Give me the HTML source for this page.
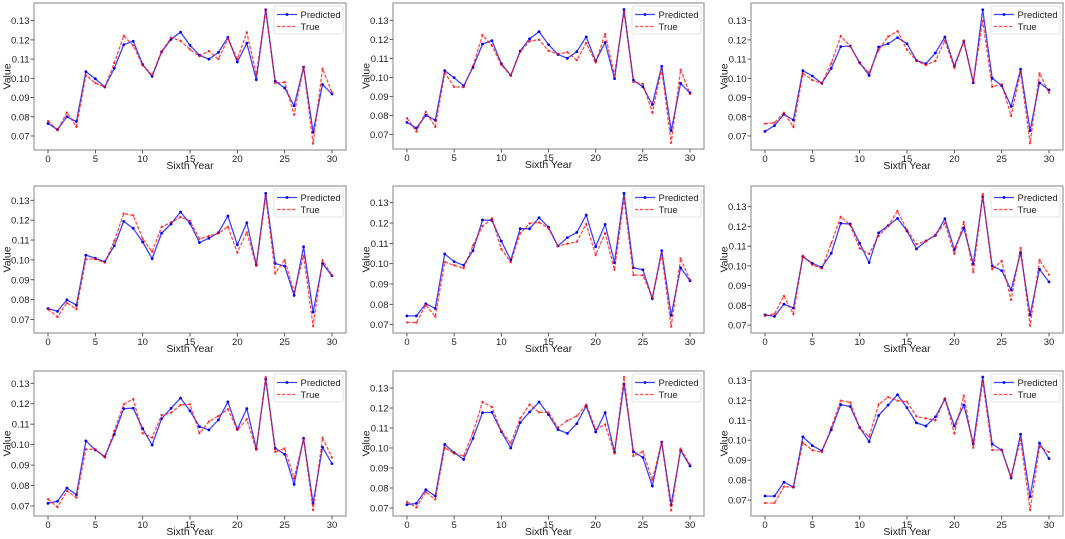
<!DOCTYPE html>
<html><head><meta charset="utf-8">
<style>
html,body{margin:0;padding:0;background:#fff;}
svg{display:block;font-family:"Liberation Sans","DejaVu Sans",sans-serif;}
</style></head>
<body>
<svg id="chart" width="1065" height="539" viewBox="0 0 1065 539" xmlns="http://www.w3.org/2000/svg"></svg>
<script>
const xCategories = Array.from({length:31},(_,i)=>i);
const xTickLabels = ["0","5","10","15","20","25","30"];
const xTickValues = [0,5,10,15,20,25,30];
const yTickValues = [0.07,0.08,0.09,0.10,0.11,0.12,0.13];
const yTickLabels = ["0.07","0.08","0.09","0.10","0.11","0.12","0.13"];

const pred1=[.0765,.0733,.0800,.0775,.1035,.0998,.0955,.1052,.1175,.1193,.1072,.1010,.1138,.1203,.1240,.1172,.1120,.1100,.1135,.1213,.1085,.1183,.0993,.1357,.0985,.0950,.0857,.1058,.0720,.0968,.0918];
const true1=[.0778,.0730,.0822,.0748,.1015,.0975,.0955,.1080,.1222,.1170,.1068,.1017,.1140,.1212,.1195,.1150,.1115,.1142,.1100,.1205,.1100,.1238,.1020,.1355,.0975,.0980,.0810,.1060,.0660,.1050,.0925];
const pred2=[.0763,.0733,.0800,.0775,.1035,.0998,.0955,.1052,.1175,.1193,.1072,.1010,.1138,.1203,.1240,.1172,.1120,.1100,.1135,.1213,.1085,.1183,.0993,.1357,.0985,.0950,.0857,.1058,.0720,.0968,.0918];
const true2=[.0785,.0715,.0818,.0740,.1025,.0950,.0948,.1060,.1222,.1168,.1065,.1010,.1135,.1190,.1198,.1140,.1122,.1132,.1090,.1180,.1078,.1228,.1010,.1345,.0975,.0965,.0815,.1045,.0655,.1040,.0912];
const pred3=[.0724,.0754,.0813,.0783,.1040,.1012,.0974,.1052,.1165,.1168,.1081,.1015,.1163,.1180,.1212,.1180,.1093,.1076,.1132,.1215,.1064,.1192,.0977,.1357,.1000,.0962,.0854,.1047,.0728,.0977,.0939];
const true3=[.0764,.0769,.0821,.0747,.1026,.0991,.0974,.1078,.1220,.1168,.1078,.1029,.1147,.1217,.1245,.1149,.1090,.1069,.1090,.1196,.1055,.1196,.0982,.1300,.0956,.0969,.0804,.1034,.0662,.1026,.0925];
const pred4=[.0755,.0741,.0799,.0772,.1024,.1008,.0991,.1071,.1194,.1159,.1090,.1006,.1135,.1181,.1241,.1184,.1087,.1109,.1137,.1221,.1076,.1187,.0974,.1335,.0982,.0969,.0821,.1066,.0737,.0982,.0920];
const true4=[.0752,.0713,.0784,.0752,.1004,.1004,.0986,.1095,.1233,.1224,.1106,.1041,.1166,.1189,.1216,.1196,.1106,.1120,.1134,.1167,.1037,.1139,.0970,.1322,.0933,.0999,.0838,.1021,.0666,.0997,.0922];
const pred5=[.0743,.0743,.0803,.0780,.1048,.1010,.0992,.1064,.1215,.1213,.1111,.1018,.1172,.1172,.1226,.1179,.1087,.1128,.1154,.1239,.1084,.1193,.1005,.1346,.0980,.0970,.0828,.1064,.0746,.0980,.0916];
const true5=[.0711,.0710,.0797,.0739,.1008,.0992,.0977,.1090,.1185,.1223,.1072,.1007,.1149,.1198,.1203,.1174,.1087,.1098,.1108,.1195,.1043,.1149,.0969,.1321,.0944,.0943,.0834,.1048,.0690,.1026,.0920];
const pred6=[.0752,.0744,.0806,.0786,.1047,.1013,.0993,.1064,.1216,.1212,.1115,.1017,.1168,.1204,.1241,.1177,.1086,.1126,.1155,.1239,.1084,.1192,.1010,.1351,.1000,.0976,.0878,.1067,.0752,.0983,.0919];
const true6=[.0747,.0757,.0848,.0756,.1052,.1005,.0987,.1115,.1249,.1207,.1089,.1061,.1152,.1202,.1278,.1182,.1110,.1126,.1157,.1216,.1061,.1223,.0968,.1364,.0983,.1025,.0828,.1091,.0697,.1030,.0955];
const pred7=[.0713,.0723,.0788,.0755,.1018,.0974,.0941,.1050,.1176,.1178,.1078,.0998,.1127,.1178,.1228,.1165,.1088,.1072,.1121,.1209,.1075,.1176,.0980,.1320,.0982,.0953,.0806,.1031,.0713,.0987,.0907];
const true7=[.0733,.0695,.0773,.0741,.0977,.0977,.0937,.1067,.1197,.1223,.1056,.1034,.1144,.1156,.1194,.1197,.1056,.1113,.1140,.1173,.1072,.1124,.0974,.1331,.0964,.0981,.0836,.1026,.0680,.1034,.0937];
const pred8=[.0717,.0723,.0792,.0760,.1018,.0977,.0943,.1048,.1177,.1178,.1082,.1000,.1127,.1180,.1230,.1167,.1092,.1073,.1122,.1210,.1080,.1177,.0980,.1320,.0982,.0953,.0810,.1030,.0717,.0988,.0910];
const true8=[.0730,.0703,.0780,.0743,.1002,.0973,.0960,.1077,.1230,.1205,.1085,.1023,.1148,.1217,.1178,.1178,.1102,.1137,.1160,.1217,.1093,.1118,.0972,.1355,.0960,.0982,.0840,.1030,.0688,.0997,.0917];
const pred9=[.0720,.0720,.0790,.0765,.1017,.0973,.0947,.1052,.1178,.1169,.1064,.0993,.1124,.1176,.1228,.1163,.1087,.1071,.1117,.1206,.1072,.1176,.0983,.1317,.0981,.0951,.0811,.1030,.0717,.0986,.0908];
const true9=[.0685,.0685,.0767,.0765,.0988,.0950,.0940,.1064,.1198,.1190,.1060,.1018,.1179,.1216,.1198,.1193,.1119,.1109,.1099,.1209,.1035,.1224,.0962,.1297,.0951,.0951,.0817,.1003,.0650,.0967,.0941];

const predSeries=[pred1,pred2,pred3,pred4,pred5,pred6,pred7,pred8,pred9];
const trueSeries=[true1,true2,true3,true4,true5,true6,true7,true8,true9];

// layout (not data)
const colX=[[34,346],[393,704],[751,1063]];
const rowY=[[3,150],[3,149],[3,150],[186,333],[186,333],[186,333],[371,516],[371,516],[371,516]];
const yDomains=[[.0627,.1392],[.0623,.1391],[.0627,.1392],[.0632,.1372],[.0659,.1382],[.0660,.1405],[.0651,.1360],[.0660,.1385],[.0620,.1347]];
const xDomain=[-1.48,31.48];

const NS="http://www.w3.org/2000/svg";
const svg=document.getElementById('chart');
function mk(tag,attrs,parent){const e=document.createElementNS(NS,tag);for(const k in attrs)e.setAttribute(k,attrs[k]);parent.appendChild(e);return e;}

for(let p=0;p<9;p++){
  const [x0,x1]=colX[p%3];
  const [y0,y1]=rowY[p];
  const [ymin,ymax]=yDomains[p];
  const xs=v=>x0+(v-xDomain[0])/(xDomain[1]-xDomain[0])*(x1-x0);
  const ys=v=>y1-(v-ymin)/(ymax-ymin)*(y1-y0);
  const g=mk('g',{},svg);
  
  
  const frame=mk('rect',{x:x0,y:y0,width:x1-x0,height:y1-y0,fill:'#fff',stroke:'#999','stroke-width':1.2},g);
  
  
  xTickValues.forEach((v,i)=>{
    const x=xs(v);
    mk('line',{x1:x,x2:x,y1:y1,y2:y1+3.5,stroke:'#333','stroke-width':0.8},g);
    const t=mk('text',{x:x,y:y1+12,'font-size':9.5,'text-anchor':'middle',fill:'#222'},g);
    
    
    t.textContent=xTickLabels[i];
  });
  yTickValues.forEach((v,i)=>{
    const y=ys(v);
    mk('line',{x1:x0-3.5,x2:x0,y1:y,y2:y,stroke:'#333','stroke-width':0.8},g);
    const t=mk('text',{x:x0-4.5,y:y+3.5,'font-size':9.5,'text-anchor':'end',fill:'#222'},g);
    
    
    t.textContent=yTickLabels[i];
  });
  const xl=mk('text',{x:(x0+x1)/2,y:y1+19,'font-size':10.5,'text-anchor':'middle',fill:'#222'},g);
  
  
  xl.textContent='Sixth Year';
  const yc=(y0+y1)/2, yx=x0-27+3.5;
  const yl=mk('text',{x:yx,y:yc,'font-size':10.5,'text-anchor':'middle',fill:'#222',transform:`rotate(-90 ${yx} ${yc})`},g);
  
  
  yl.textContent='Value';
  const pts=arr=>arr.map((v,i)=>xs(xCategories[i]).toFixed(1)+','+ys(v).toFixed(1)).join(' ');
  const pl=mk('polyline',{points:pts(predSeries[p]),fill:'none',stroke:'#0000ff','stroke-opacity':0.75,'stroke-width':1.3},g);
  
  
  predSeries[p].forEach((v,i)=>{
    const c=mk('circle',{cx:xs(xCategories[i]),cy:ys(v),r:1.4,fill:'#0000ff'},g);
    
    
  });
  const tl=mk('polyline',{points:pts(trueSeries[p]),fill:'none',stroke:'#ff0000','stroke-opacity':0.7,'stroke-width':1.3,'stroke-dasharray':'3.5,1.5'},g);
  
  
  trueSeries[p].forEach((v,i)=>{
    const c=mk('circle',{cx:xs(xCategories[i]),cy:ys(v),r:1.2,fill:'#ff0000','fill-opacity':0.7},g);
    
    
  });
  const lx=x1-72, ly=y0+3;
  const lg=mk('g',{},g);
  
  
  mk('rect',{x:lx,y:ly,width:69,height:28,rx:2,fill:'#fff','fill-opacity':0.8,stroke:'#ddd','stroke-width':0.8},lg);
  mk('line',{x1:lx+3,x2:lx+23,y1:ly+8.5,y2:ly+8.5,stroke:'#0000ff','stroke-opacity':0.75,'stroke-width':1.3},lg);
  mk('circle',{cx:lx+13,cy:ly+8.5,r:1.4,fill:'#0000ff'},lg);
  mk('line',{x1:lx+3,x2:lx+23,y1:ly+20.5,y2:ly+20.5,stroke:'#ff0000','stroke-opacity':0.7,'stroke-width':1.3,'stroke-dasharray':'3.5,1.5'},lg);
  const t1=mk('text',{x:lx+26.5,y:ly+12,'font-size':9.5,fill:'#222'},lg);
  
  
  t1.textContent='Predicted';
  const t2=mk('text',{x:lx+26.5,y:ly+24,'font-size':9.5,fill:'#222'},lg);
  
  
  t2.textContent='True';
}
</script>
</body></html>
